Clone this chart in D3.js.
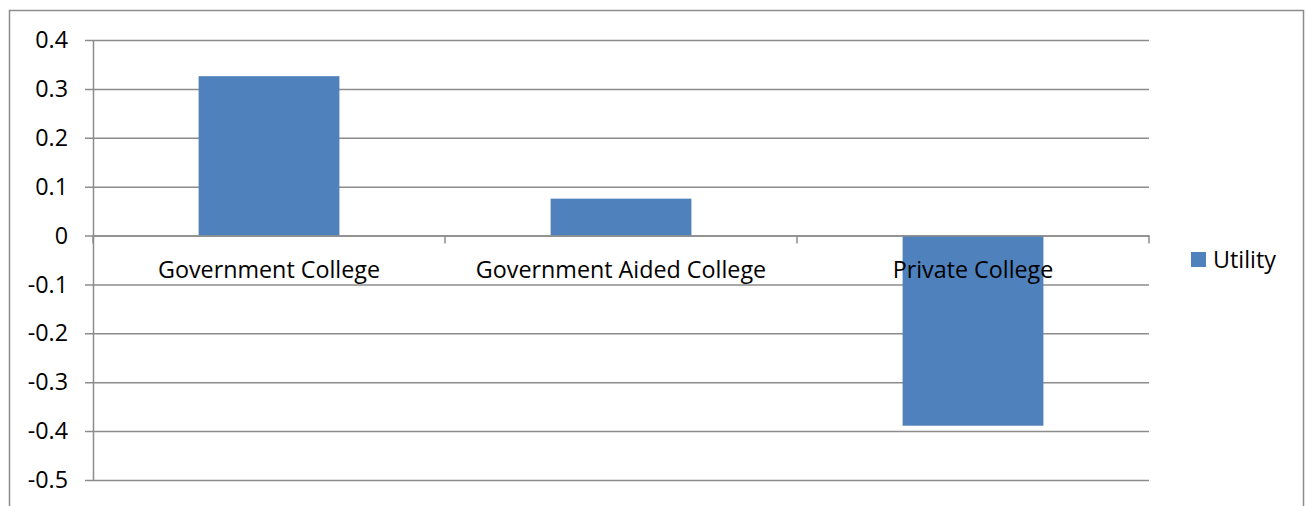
<!DOCTYPE html>
<html>
<head>
<meta charset="utf-8">
<script src="https://cdn.jsdelivr.net/npm/d3@7"></script>
<style>
  html, body { margin: 0; padding: 0; background: #fff; }
  svg { display: block; font-family: "Open Sans", Lato, sans-serif; }
</style>
</head>
<body>
<div id="chart"></div>
<script>
// Chart data
const categories = ['Government College', 'Government Aided College', 'Private College'];
const utility = [0.326, 0.0755, -0.389];
const yTicks = [0.4, 0.3, 0.2, 0.1, 0, -0.1, -0.2, -0.3, -0.4, -0.5];
const yTickLabels = ['0.4', '0.3', '0.2', '0.1', '0', '-0.1', '-0.2', '-0.3', '-0.4', '-0.5'];
const seriesName = 'Utility';

const width = 1306;
const height = 506;
const plot = { left: 93, right: 1149, top: 40, bottom: 480 };
const gridColor = '#8c8c8c';
const barColor = '#4F81BD';
const fontSize = '23.3px';

const svg = d3.select('#chart')
    .append('svg')
    .attr('width', width)
    .attr('height', height);

// Outer chart border (bottom edge falls outside the picture)
svg.append('rect')
    .attr('x', 9.5)
    .attr('y', 10.5)
    .attr('width', 1294)
    .attr('height', 520)
    .attr('fill', 'none')
    .attr('stroke', gridColor)
    .attr('stroke-width', 1.5);

const x = d3.scaleBand()
    .domain(categories)
    .range([plot.left, plot.right])
    .paddingInner(0.6)
    .paddingOuter(0.3);

const y = d3.scaleLinear()
    .domain([-0.5, 0.4])
    .range([plot.bottom, plot.top]);

// Gridlines and y tick marks
const yAxis = d3.axisLeft(y)
    .tickValues(yTicks)
    .tickSize(-(plot.right - plot.left))
    .tickSizeOuter(0)
    .tickFormat('');

const yg = svg.append('g')
    .attr('transform', `translate(${plot.left},0)`)
    .call(yAxis);
yg.select('.domain').attr('stroke', gridColor).attr('stroke-width', 1.5);
yg.selectAll('.tick line')
    .attr('x1', -8)
    .attr('stroke', gridColor)
    .attr('stroke-width', 1.5);

// y tick labels
svg.append('g')
    .selectAll('text')
    .data(yTicks)
    .enter()
    .append('text')
    .attr('x', 68)
    .attr('y', d => y(d))
    .attr('dy', '0.35em')
    .attr('text-anchor', 'end')
    .style('font-size', fontSize)
    .style('fill', '#000')
    .text((d, i) => yTickLabels[i]);

// Bars
svg.append('g')
    .selectAll('rect')
    .data(utility)
    .enter()
    .append('rect')
    .attr('x', (d, i) => x(categories[i]))
    .attr('width', x.bandwidth())
    .attr('y', d => y(Math.max(0, d)))
    .attr('height', d => Math.abs(y(d) - y(0)))
    .attr('fill', barColor);

// Category axis at zero
const step = x.step();
const xAxis = d3.axisBottom(x)
    .tickSize(0)
    .tickSizeOuter(0)
    .tickFormat('');
const xg = svg.append('g')
    .attr('transform', `translate(0,${y(0)})`)
    .call(xAxis);
xg.select('.domain').attr('stroke', gridColor).attr('stroke-width', 1.5);

// Tick marks between categories
xg.selectAll('line.sep')
    .data(d3.range(categories.length + 1))
    .enter()
    .append('line')
    .attr('class', 'sep')
    .attr('x1', i => plot.left + i * step)
    .attr('x2', i => plot.left + i * step)
    .attr('y1', 0)
    .attr('y2', 8)
    .attr('stroke', gridColor)
    .attr('stroke-width', 1.5);

// Category labels
svg.append('g')
    .selectAll('text')
    .data(categories)
    .enter()
    .append('text')
    .attr('x', d => x(d) + x.bandwidth() / 2)
    .attr('y', y(0) + 34)
    .attr('dy', '0.35em')
    .attr('text-anchor', 'middle')
    .style('font-size', fontSize)
    .style('fill', '#000')
    .text(d => d);

// Legend
const legend = svg.append('g').attr('transform', 'translate(1191,252)');
legend.append('rect')
    .attr('width', 15)
    .attr('height', 15)
    .attr('fill', barColor);
legend.append('text')
    .attr('x', 22)
    .attr('y', 8)
    .attr('dy', '0.35em')
    .style('font-size', fontSize)
    .style('fill', '#000')
    .text(seriesName);
</script>
</body>
</html>
